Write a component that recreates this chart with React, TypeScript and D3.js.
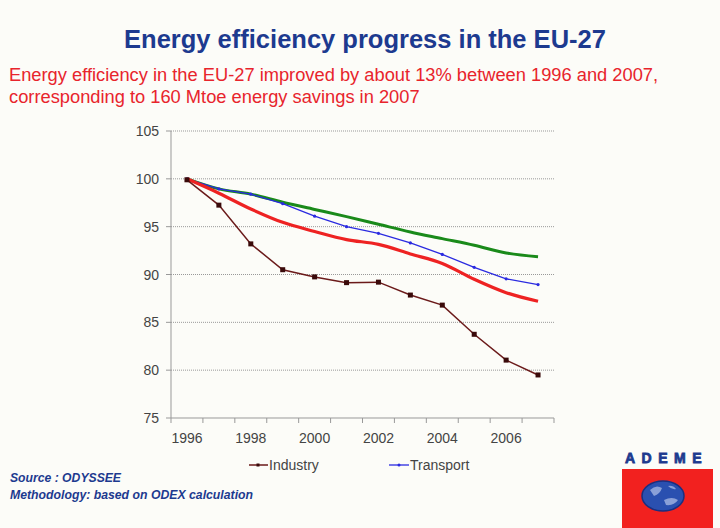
import React from "react";
import * as d3 from "d3";

const years = ["1996","1997","1998","1999","2000","2001","2002","2003","2004","2005","2006","2007"];
const yTicks = [75, 80, 85, 90, 95, 100, 105];
const industry = [99.9, 97.25, 93.2, 90.5, 89.75, 89.15, 89.2, 87.85, 86.8, 83.75, 81.05, 79.5];
const transport = [100, 98.95, 98.4, 97.4, 96.1, 95.0, 94.3, 93.3, 92.1, 90.75, 89.55, 88.95];
const households = [100, 98.95, 98.4, 97.55, 96.8, 96.05, 95.25, 94.45, 93.75, 93.05, 92.25, 91.85];
const total = [100, 98.5, 96.85, 95.45, 94.5, 93.65, 93.15, 92.15, 91.15, 89.5, 88.1, 87.2];
const title = "Energy efficiency progress in the EU-27";
const subtitle = [
  "Energy efficiency in the EU-27 improved by about 13% between 1996 and 2007,",
  "corresponding to 160 Mtoe energy savings in 2007",
];
const notes = ["Source : ODYSSEE", "Methodology: based on ODEX calculation"];
const noteWidths = [111, 243];

const W = 720, H = 528;
const M = { left: 171, right: 554, top: 131, bottom: 418 };
const sans = "'Liberation Sans', Arial, sans-serif";

export default function App() {
  const x = d3.scaleBand<string>().domain(years).range([M.left, M.right]);
  const cx = (i: number) => (x(years[i]) as number) + x.bandwidth() / 2;
  const y = d3.scaleLinear().domain([75, 105]).range([M.bottom, M.top]);
  const line = (vals: number[]) =>
    d3.line<number>().x((_, i) => cx(i)).y((d) => y(d))(vals) as string;
  const lineCurve = (vals: number[]) =>
    d3.line<number>().x((_, i) => cx(i)).y((d) => y(d)).curve(d3.curveMonotoneX)(vals) as string;

  return (
    <svg width={W} height={H} style={{ position: "absolute", left: 0, top: 0, background: "#fcfcf8" }}>
      <rect x={0} y={0} width={W} height={H} fill="#fcfcf8" />
      <text x={365} y={48} textAnchor="middle" fontFamily={sans} fontWeight="bold" fontSize={25.5} fill="#1d3a8f">
        {title}
      </text>
      {subtitle.map((s, i) => (
        <text key={i} x={9} y={81 + i * 22} fontFamily={sans} fontSize={18.3} fill="#e8242c">
          {s}
        </text>
      ))}

      {/* grid */}
      {yTicks.map((t) => (
        <g key={t}>
          {t !== 75 && (
            <line x1={M.left} x2={M.right} y1={y(t)} y2={y(t)} stroke="#999" strokeWidth={1} strokeDasharray="1,1" />
          )}
          <line x1={M.left - 5} x2={M.left} y1={y(t)} y2={y(t)} stroke="#999" />
          <text x={M.left - 12} y={y(t) + 5} textAnchor="end" fontFamily={sans} fontSize={14} fill="#444">
            {t}
          </text>
        </g>
      ))}
      <line x1={M.left} x2={M.left} y1={M.top} y2={M.bottom} stroke="#999" />
      <line x1={M.left} x2={M.right} y1={M.bottom} y2={M.bottom} stroke="#999" />
      {years.map((yr) => (
        <line key={yr} x1={x(yr) as number} x2={x(yr) as number} y1={M.bottom} y2={M.bottom + 5} stroke="#999" />
      ))}
      <line x1={M.right} x2={M.right} y1={M.bottom} y2={M.bottom + 5} stroke="#999" />
      {years.map((yr, i) =>
        i % 2 === 0 ? (
          <text key={yr} x={cx(i)} y={M.bottom + 25} textAnchor="middle" fontFamily={sans} fontSize={14} fill="#444">
            {yr}
          </text>
        ) : null
      )}

      {/* series */}
      <path d={lineCurve(households)} fill="none" stroke="#1a8a1a" strokeWidth={3} />
      <path d={line(transport)} fill="none" stroke="#2a2ae0" strokeWidth={1.3} />
      {transport.map((v, i) => (
        <circle key={i} cx={cx(i)} cy={y(v)} r={1.6} fill="#2a2ae0" />
      ))}
      <path d={lineCurve(total)} fill="none" stroke="#ee2222" strokeWidth={3.2} />
      <path d={line(industry)} fill="none" stroke="#6b1a1a" strokeWidth={1.5} />
      {industry.map((v, i) => (
        <rect key={i} x={cx(i) - 2.5} y={y(v) - 2.5} width={5} height={5} fill="#3a0a0a" />
      ))}

      {/* legend */}
      <line x1={249} x2={268} y1={465} y2={465} stroke="#6b1a1a" strokeWidth={1.5} />
      <rect x={256.5} y={463.5} width={3} height={3} fill="#3a0a0a" />
      <text x={269} y={470} fontFamily={sans} fontSize={14} fill="#444">Industry</text>
      <line x1={389} x2={409} y1={465} y2={465} stroke="#2a2ae0" strokeWidth={1.3} />
      <circle cx={399} cy={465} r={1.5} fill="#2a2ae0" />
      <text x={410} y={470} fontFamily={sans} fontSize={14} fill="#444">Transport</text>

      {notes.map((n, i) => (
        <text key={i} x={10} y={482 + i * 17} fontFamily={sans} fontStyle="italic" fontWeight="bold" fontSize={13}
          textLength={noteWidths[i]} lengthAdjust="spacingAndGlyphs" fill="#1d3a8f">
          {n}
        </text>
      ))}

      {/* logo */}
      <text x={625} y={463} fontFamily={sans} fontWeight="900" fontSize={14} letterSpacing={6.5} fill="#1d3a8f" stroke="#1d3a8f" strokeWidth={0.8}>
        ADEME
      </text>
      <rect x={622} y={469} width={91} height={59} fill="#f2211f" />
      <ellipse cx={663} cy={496} rx={21} ry={15} fill="#2a50b0" stroke="#1a2f80" strokeWidth={1.5} />
      <path d="M650,490 q6,-6 12,-2 q-2,6 -8,8 z M664,500 q8,-4 14,0 q-4,6 -12,5 z M668,486 q5,-1 8,3 q-4,1 -8,-3 z" fill="#8aa0d8" />
    </svg>
  );
}
